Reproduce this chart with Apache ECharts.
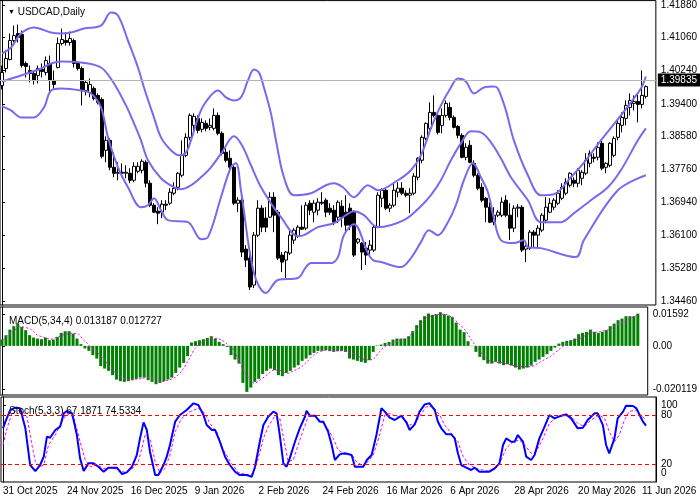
<!DOCTYPE html>
<html>
<head>
    <meta charset="utf-8" />
    <title>USDCAD Daily</title>
    <script type="text/javascript" src="https://cdn.jsdelivr.net/npm/echarts@6.0.0/dist/echarts.min.js"></script>
    <style>
        html, body { margin: 0; padding: 0; background: #fff; }
    </style>
</head>
<body>
<div id="main" style="width: 700px;height:500px;"></div>
<script type="text/javascript">
    // 162 daily bars (31 Oct 2025 .. 12 Jun 2026) + 2 empty slots of chart shift
    var slotCount = 164;
    var tickLabels = ['31 Oct 2025','24 Nov 2025','16 Dec 2025','9 Jan 2026','2 Feb 2026','24 Feb 2026',
        '16 Mar 2026','6 Apr 2026','28 Apr 2026','20 May 2026','11 Jun 2026'];
    var tickEvery = 16;

    // [open, close, low, high]
    var candles = [
        [1.39865,1.40190,1.39765,1.40365],[1.40290,1.40540,1.40190,1.40740],[1.40515,1.40990,1.40490,1.41165],[1.40990,1.41115,1.40940,1.41365],
        [1.41165,1.41065,1.40940,1.41390],[1.41140,1.40365,1.40315,1.41240],[1.40415,1.40340,1.40065,1.40465],[1.40240,1.40165,1.39940,1.40365],
        [1.40165,1.39990,1.39890,1.40215],[1.40115,1.40290,1.39915,1.40365],[1.40265,1.40215,1.40065,1.40415],[1.40190,1.40490,1.40115,1.40590],
        [1.40415,1.39990,1.39690,1.40615],[1.39990,1.39890,1.39790,1.40240],[1.40315,1.40915,1.40290,1.41065],[1.40915,1.41015,1.40865,1.41290],
        [1.40990,1.40940,1.40865,1.41190],[1.40940,1.41040,1.40865,1.41215],[1.40990,1.40415,1.40315,1.41040],[1.40415,1.40290,1.40240,1.40465],
        [1.40290,1.39740,1.39365,1.40340],[1.39740,1.39940,1.39615,1.39990],[1.39690,1.39890,1.39565,1.40040],[1.39790,1.39540,1.39490,1.39840],
        [1.39615,1.39440,1.39390,1.39665],[1.39515,1.38090,1.38040,1.39565],[1.38240,1.38490,1.37940,1.38590],[1.38490,1.37815,1.37740,1.38540],
        [1.37815,1.37665,1.37565,1.38190],[1.37665,1.37690,1.37490,1.37940],[1.37690,1.37665,1.37565,1.37915],[1.37665,1.37690,1.37540,1.37865],
        [1.37665,1.37490,1.37415,1.37790],[1.37490,1.37840,1.37440,1.37940],[1.37715,1.37840,1.37665,1.37940],[1.37740,1.37965,1.37665,1.38015],
        [1.37940,1.37415,1.37315,1.37990],[1.37415,1.36865,1.36815,1.37490],[1.36865,1.36690,1.36665,1.36915],[1.36715,1.36665,1.36390,1.36815],
        [1.36690,1.36890,1.36540,1.36990],[1.36890,1.36865,1.36740,1.36990],[1.36915,1.37190,1.36865,1.37290],[1.37165,1.37290,1.37115,1.37440],
        [1.37315,1.37665,1.37240,1.37690],[1.37615,1.38115,1.37565,1.38490],[1.38115,1.38565,1.38065,1.38665],[1.38565,1.39115,1.38490,1.39165],
        [1.38865,1.39090,1.38690,1.39165],[1.39040,1.38740,1.38665,1.39115],[1.38765,1.38940,1.38690,1.39040],[1.38915,1.38790,1.38715,1.38990],
        [1.38815,1.38865,1.38740,1.39040],[1.38790,1.39115,1.38740,1.39290],[1.39115,1.38665,1.38615,1.39190],[1.38665,1.38165,1.38115,1.38715],
        [1.38190,1.37990,1.37940,1.38290],[1.38040,1.37815,1.37740,1.38240],[1.37815,1.36915,1.36865,1.37865],[1.36915,1.36990,1.36690,1.37065],
        [1.36990,1.35690,1.35565,1.37040],[1.35765,1.35490,1.35315,1.35865],[1.35540,1.34815,1.34740,1.35615],[1.34865,1.36115,1.34790,1.36190],
        [1.36115,1.36790,1.36065,1.36990],[1.36790,1.36315,1.36190,1.36865],[1.36540,1.36315,1.36190,1.36815],[1.36565,1.37065,1.36540,1.37190],
        [1.37065,1.36615,1.36190,1.37190],[1.36690,1.35540,1.35490,1.36740],[1.35615,1.35440,1.35190,1.35690],[1.35490,1.35690,1.35040,1.35715],
        [1.35665,1.36115,1.35615,1.36240],[1.35990,1.36240,1.35890,1.36290],[1.36090,1.36315,1.36040,1.36365],[1.36315,1.36265,1.36240,1.36865],
        [1.36290,1.36865,1.36240,1.36940],[1.36915,1.36740,1.36615,1.36990],[1.36690,1.36915,1.36440,1.36990],[1.36740,1.36940,1.36615,1.37040],
        [1.36940,1.36915,1.36865,1.37190],[1.36990,1.36690,1.36565,1.37040],[1.36790,1.36690,1.36615,1.36915],[1.36740,1.36440,1.36365,1.36865],
        [1.36565,1.36940,1.36415,1.36990],[1.36840,1.36565,1.36315,1.36990],[1.36690,1.36365,1.36190,1.37115],[1.36790,1.36365,1.36240,1.36915],
        [1.36690,1.35615,1.35565,1.36740],[1.35940,1.36015,1.35890,1.36040],[1.35915,1.35690,1.35240,1.35940],[1.35790,1.35615,1.35365,1.35940],
        [1.35740,1.35865,1.35615,1.35990],[1.35740,1.36315,1.35690,1.36365],[1.36315,1.37115,1.36290,1.37190],[1.37040,1.37240,1.36815,1.37290],
        [1.37240,1.36790,1.36740,1.37290],[1.36790,1.36865,1.36690,1.36915],[1.36865,1.37240,1.36815,1.37415],[1.37190,1.37290,1.37065,1.37440],
        [1.37290,1.37165,1.37115,1.37440],[1.37165,1.37115,1.37065,1.37240],[1.37115,1.37165,1.36665,1.37290],[1.37165,1.37590,1.37115,1.37665],
        [1.37565,1.38040,1.37490,1.38065],[1.37990,1.38565,1.37915,1.38615],[1.38540,1.38915,1.38490,1.38940],[1.38790,1.39190,1.38740,1.39440],
        [1.39190,1.39115,1.39065,1.39615],[1.39115,1.38690,1.38640,1.39165],[1.38865,1.39115,1.38665,1.39290],[1.39115,1.39415,1.39065,1.39490],
        [1.39315,1.39065,1.38990,1.39440],[1.39065,1.38815,1.38790,1.39115],[1.38840,1.38615,1.38540,1.38865],[1.38615,1.38065,1.38040,1.38665],
        [1.38065,1.38315,1.37990,1.38415],[1.38365,1.37940,1.37915,1.38490],[1.37915,1.37615,1.37565,1.37990],[1.37615,1.37290,1.37240,1.37665],
        [1.37315,1.36990,1.36940,1.37415],[1.37040,1.36815,1.36440,1.37065],[1.36815,1.36440,1.36415,1.36940],[1.36440,1.36615,1.36365,1.36815],
        [1.36615,1.36690,1.36565,1.36740],[1.36615,1.36940,1.36565,1.37065],[1.36990,1.36615,1.36565,1.37115],[1.36615,1.36290,1.35990,1.36915],
        [1.36290,1.36790,1.36190,1.36865],[1.36790,1.36815,1.36565,1.36890],[1.36815,1.35740,1.35690,1.36865],[1.35765,1.35840,1.35440,1.35865],
        [1.35790,1.36190,1.35740,1.36240],[1.36190,1.36115,1.35815,1.36240],[1.36115,1.36290,1.35815,1.36365],[1.36240,1.36615,1.36190,1.36665],
        [1.36490,1.36815,1.36415,1.37065],[1.36690,1.36915,1.36665,1.37040],[1.36815,1.36990,1.36740,1.37040],[1.36915,1.37165,1.36865,1.37240],
        [1.37040,1.37315,1.36990,1.37415],[1.37165,1.37440,1.37115,1.37540],[1.37365,1.37665,1.37315,1.37690],[1.37490,1.37415,1.37315,1.37565],
        [1.37415,1.37740,1.37315,1.37790],[1.37540,1.37690,1.37365,1.37740],[1.37665,1.37990,1.37615,1.38165],[1.37915,1.38165,1.37815,1.38240],
        [1.38065,1.38040,1.37940,1.38165],[1.38065,1.38315,1.37990,1.38440],[1.38415,1.37790,1.37740,1.38490],[1.37815,1.37915,1.37665,1.37940],
        [1.37865,1.38415,1.37815,1.38440],[1.38115,1.38540,1.38065,1.38590],[1.38565,1.38915,1.38490,1.38990],[1.38865,1.39065,1.38690,1.39190],
        [1.39040,1.39365,1.38865,1.39490],[1.39315,1.39490,1.39115,1.39665],[1.39415,1.39465,1.39240,1.39615],[1.39465,1.39390,1.38940,1.39665],
        [1.39390,1.39615,1.39290,1.40240],[1.39590,1.39835,1.39540,1.39865]
    ];
    var lastPrice = 1.39835;

    // Bollinger bands as [bar, price]
    var bbUpper = [[0,1.40665],[2.25,1.40815],[4.75,1.41165],[8,1.41315],[12.25,1.4119],[14.75,1.41165],[17.25,1.4119],[20.5,1.4129],
        [24.75,1.41365],[27.25,1.4169],[29,1.41615],[31.5,1.4099],[34,1.40315],[35.5,1.39815],[38,1.39065],[39.75,1.38565],[42.25,1.3824],
        [44.25,1.38115],[46,1.3819],[47.25,1.3849],[49.75,1.3924],[52.25,1.39615],[54,1.3974],[56,1.39565],[58,1.3949],[59.75,1.39565],
        [61.5,1.3999],[63,1.40265],[64.25,1.4019],[65.5,1.39815],[67.25,1.39165],[68.5,1.3849],[70.5,1.37565],[73,1.37115],[77.25,1.37165],
        [81,1.37365],[83,1.37415],[85.25,1.37315],[88,1.37065],[91.5,1.37365],[94,1.3724],[99,1.3749],[102.25,1.3774],[104.75,1.38115],
        [107.25,1.3879],[109.75,1.39365],[112.25,1.39815],[114,1.4004],[116,1.39965],[118,1.39665],[120.5,1.39815],[123,1.3984],[124,1.3979],
        [126,1.3924],[128,1.3849],[131.5,1.37615],[134.75,1.37115],[138,1.3714],[142.25,1.37565],[146,1.3799],[149.75,1.3849],[154.75,1.39115],
        [159.75,1.3979],[161,1.4009]];
    var bbMiddle = [[0,1.39965],[4.75,1.40115],[9.75,1.4029],[12.25,1.40415],[14.75,1.40465],[19.75,1.4044],[24.75,1.40315],[28,1.39915],
        [31,1.39365],[33,1.38915],[34.75,1.3849],[36.5,1.3799],[39.75,1.3754],[43,1.37315],[44.75,1.37265],[47.25,1.37365],[49.75,1.37565],
        [52.25,1.37815],[55,1.3819],[58,1.3859],[60,1.38365],[62.25,1.37865],[64.5,1.37365],[67.25,1.36915],[69.75,1.36565],[74,1.3609],
        [75.5,1.36115],[79,1.36315],[83,1.36415],[86,1.36615],[88,1.36715],[90.5,1.36615],[94,1.36315],[100.5,1.3649],[104.75,1.3684],
        [107.25,1.37115],[109.75,1.3749],[112.25,1.3799],[114.75,1.38415],[117.25,1.38715],[119.75,1.3869],[122.25,1.3844],[124.75,1.3804],
        [127.25,1.37565],[131.5,1.3699],[134.75,1.3644],[139.75,1.3644],[143,1.36665],[147.25,1.3699],[151.5,1.37315],[154.75,1.3774],
        [159,1.3849],[161,1.3879]];
    var bbLower = [[0,1.3934],[2.25,1.3924],[4.75,1.39065],[8,1.39065],[10.5,1.39315],[12.25,1.3974],[14.75,1.3979],[19.75,1.3974],
        [22.25,1.39665],[24.75,1.39315],[26.5,1.38565],[29,1.37815],[31.5,1.37315],[34.75,1.36815],[36.5,1.36865],[38,1.3704],[39.75,1.3674],
        [41.5,1.3649],[46.5,1.3644],[49.75,1.36015],[51.5,1.36065],[54.75,1.37065],[57.25,1.37815],[58.5,1.37915],[59.75,1.3724],[63,1.35165],
        [66,1.34665],[69,1.3499],[74,1.3504],[76,1.35315],[77.25,1.35415],[82.25,1.35415],[84,1.35565],[85.5,1.36115],[88,1.3639],
        [91.5,1.35665],[92.75,1.3549],[94.75,1.3544],[99.75,1.35315],[102.25,1.3554],[104.75,1.3594],[106.75,1.3624],[109,1.36115],
        [111.5,1.3644],[113.5,1.36865],[115.5,1.3749],[117.75,1.37915],[119.75,1.37565],[121.5,1.3719],[123,1.3654],[124.75,1.3599],
        [128,1.35915],[130.5,1.3599],[131.5,1.35815],[134.75,1.3579],[143.5,1.35565],[145.5,1.3599],[154,1.3724],[161,1.37615]];

    // MACD(5,34,4): histogram per bar, signal as [bar, value]
    var macdHist = [
        0.00262,0.00438,0.00668,0.00807,0.00913,0.00778,0.00643,0.00438,0.00340,0.00299,
        0.00274,0.00340,0.00233,0.00258,0.00369,0.00532,0.00602,0.00602,0.00504,0.00299,
        0.00070,-0.00106,-0.00205,-0.00381,-0.00520,-0.00831,-0.00930,-0.01024,-0.01200,-0.01380,
        -0.01446,-0.01474,-0.01446,-0.01405,-0.01351,-0.01298,-0.01298,-0.01405,-0.01474,-0.01569,
        -0.01515,-0.01446,-0.01380,-0.01298,-0.01106,-0.00889,-0.00696,-0.00422,0.00139,0.00192,
        0.00233,0.00274,0.00328,0.00397,0.00299,0.00164,0.00070,-0.00041,-0.00381,-0.00561,
        -0.00725,-0.01515,-0.01884,-0.01708,-0.01474,-0.01351,-0.01147,-0.01024,-0.00930,-0.00995,
        -0.01200,-0.01241,-0.01106,-0.01024,-0.00889,-0.00790,-0.00614,-0.00520,-0.00381,-0.00287,
        -0.00205,-0.00205,-0.00176,-0.00217,-0.00246,-0.00217,-0.00205,-0.00246,-0.00520,-0.00561,
        -0.00614,-0.00655,-0.00696,-0.00586,-0.00246,0.00020,0.00053,0.00123,0.00164,0.00258,
        0.00299,0.00299,0.00299,0.00397,0.00602,0.00848,0.01053,0.01216,0.01323,0.01270,
        0.01298,0.01380,0.01298,0.01241,0.01188,0.00954,0.00668,0.00561,0.00192,-0.00012,
        -0.00246,-0.00450,-0.00586,-0.00725,-0.00725,-0.00655,-0.00725,-0.00790,-0.00749,-0.00807,
        -0.00889,-0.00971,-0.00930,-0.00889,-0.00807,-0.00655,-0.00561,-0.00450,-0.00340,-0.00205,
        -0.00070,0.00094,0.00164,0.00205,0.00233,0.00299,0.00479,0.00532,0.00573,0.00668,
        0.00573,0.00532,0.00573,0.00643,0.00807,0.00913,0.01053,0.01118,0.01216,0.01216,
        0.01216,0.013187
    ];
    var macdSignal = [[0.2,0.00242],[2.25,0.00515],[4.75,0.00788],[7.25,0.00678],[8.9,0.00447],[10.6,0.00351],[12.25,0.00269],
        [13.9,0.00351],[15.6,0.00447],[17.7,0.00515],[19.3,0.00487],[20.6,0.00242],[21.6,0.00105],[22.7,-0.00099],[23.9,-0.00236],
        [25.6,-0.00509],[27.25,-0.0085],[28.9,-0.01123],[30.6,-0.01328],[32.25,-0.01396],[33.9,-0.01369],[35.6,-0.01328],[37.25,-0.01287],
        [38.9,-0.01369],[40.6,-0.01465],[42.25,-0.01396],[43.9,-0.01287],[45.6,-0.01014],[47.25,-0.00577],[48.9,-0.00099],[50.6,0.00133],
        [52.25,0.00269],[53.9,0.0031],[55.6,0.00242],[57.25,0.00037],[58.9,-0.00236],[60.6,-0.00823],[62.25,-0.0126],[63.9,-0.01533],
        [65.6,-0.01369],[67.25,-0.01164],[68.9,-0.00987],[70.6,-0.01014],[72.25,-0.01123],[73.9,-0.01014],[75.6,-0.00878],[77.25,-0.00645],
        [78.9,-0.00372],[80.6,-0.00236],[82.25,-0.00168],[83.9,-0.00195],[86.4,-0.00209],[89.75,-0.00372],[92.25,-0.00577],[93.9,-0.0055],
        [95.6,-0.00236],[97.25,-0.00004],[99.75,0.00173],[102.25,0.0031],[103.9,0.00515],[105.6,0.00788],[107.25,0.01129],[109.75,0.01266],
        [112.25,0.01293],[113.9,0.0117],[115.6,0.00924],[117.25,0.00651],[118.9,0.00242],[120.1,-0.00031],[122.25,-0.00441],[123.9,-0.00645],
        [126.4,-0.00686],[128.9,-0.00782],[131.4,-0.0085],[133.9,-0.0085],[136.4,-0.00645],[139,-0.00413],[141.4,-0.00099],[143.9,0.00173],
        [146.4,0.0031],[148.9,0.00515],[151.4,0.00583],[153.9,0.00678],[155.6,0.00856],[158.1,0.01033],[161,0.012727]];

    // Stochastic(5,3,3) as [bar, value]
    var stochMain = [[0,64],[0.6,72.1],[1.8,86.4],[3.1,89.3],[4.3,88.5],[5.6,64],[6.8,19.1],[8.1,11.7],[9.3,19.1],[10.2,29.3],[11,53.8],
        [11.8,52.5],[13.1,62],[14.3,66],[15.2,82.3],[16,85.2],[17.3,82.3],[18.5,55.8],[19.3,27.2],[20.2,11.7],[21.4,21.1],[22.7,21.1],
        [23.9,17],[25.2,10.9],[26.4,15.8],[28.5,15.8],[29.8,8.1],[31,10.1],[32.3,17],[33.5,31.3],[34.3,51.7],[35.2,71.3],[36,62],[36.8,35.4],
        [38.1,6.8],[38.9,6.8],[40.2,19.1],[41,29.3],[41.8,43.6],[43.1,72.1],[44.3,80.3],[46,86.4],[47.7,94.6],[48.9,92.5],[50.2,80.3],
        [51,68],[52.3,62],[53.1,62],[54.3,47.6],[55.6,29.3],[56.8,19.1],[58.1,10.9],[59.3,6.8],[61,6.8],[62.3,4.8],[63.1,17],[64.3,47.6],
        [65.2,68],[66.4,78.2],[67.7,84.4],[68.5,82.3],[69.3,55.8],[70.2,21.1],[71,17],[71.8,27.2],[73.1,47.6],[74.3,64],[75.6,78.2],
        [76,85.6],[76.8,79.5],[78.1,79.5],[79.3,72.1],[80.2,72.1],[81.4,59.9],[82.3,43.6],[83.1,25.2],[84.3,32.1],[85.6,33.4],[87.3,31.3],
        [88.1,17],[89.3,17],[90.2,17],[91.1,25.2],[92.3,31.3],[93.5,55.8],[94.75,88.5],[95.6,84.4],[96.8,77],[98.1,74.2],[99.75,79.5],
        [101,71.3],[101.8,62],[103.1,68.9],[104.3,84.4],[105.6,93.3],[106.8,94.6],[108.1,86.4],[108.9,72.1],[109.75,64],[111,56.6],
        [112.25,56.6],[113.1,51.7],[113.9,33.4],[114.75,19.1],[116,15.8],[117.25,13],[118.1,15.8],[119.3,10.9],[120.6,10.9],[121.8,10.9],
        [123.1,15],[124.3,21.1],[125.2,43.6],[126,51.7],[127.25,47.6],[128.1,47.6],[128.9,55.8],[130.2,47.6],[131,29.3],[132.25,25.2],
        [133.1,31.3],[134.3,51.7],[135.6,66],[136.8,80.3],[138.1,76.2],[139.75,79.5],[141,81.1],[142.25,76.2],[143.9,64],[145.2,64.8],
        [146.4,74.2],[148.1,82.3],[148.9,82.3],[150.2,68],[151,43.6],[151.8,33.4],[153.1,51.7],[153.9,76.2],[155.25,84.4],[156,91.7],
        [157.75,91.3],[158.6,88.5],[159.4,80.3],[160.25,72.1],[161,67.19]];
    var stochSignal = [[0,43.6],[1,64],[2.25,82.3],[3.5,86.4],[4.75,85.2],[6,78.2],[7.25,43.6],[8.1,23.2],[9.3,17],[10.2,19.1],[11.4,43.6],
        [13.1,55.8],[14.75,72.1],[16,82.3],[17.7,78.2],[19.3,47.6],[20.6,25.2],[21.8,17],[23.5,19.1],[25.2,15],[27.25,15.8],[28.9,13],
        [30.6,10.1],[32.7,15.8],[33.9,23.2],[35.6,55.8],[36.8,51.7],[38.1,23.2],[39.3,8.9],[40.6,15],[41.8,31.3],[43.1,59.9],[44.75,76.2],
        [46.8,84.4],[48.9,88.5],[50.6,82.3],[51.8,70.1],[53.5,59.9],[55.2,37.4],[57.25,21.1],[58.9,10.1],[61.4,6.8],[62.7,8.9],[63.9,27.2],
        [65.2,51.7],[66.4,66],[68.1,79.5],[69.3,76.2],[70.6,43.6],[71.4,23.2],[72.7,25.2],[73.9,43.6],[75.2,62],[76.4,78.2],[77.7,79.5],
        [79.3,74.2],[81,66],[82.7,51.7],[83.9,37.4],[85.6,32.1],[87.25,32.1],[88.5,23.2],[90.2,17.9],[91.4,23.2],[92.7,31.3],[94.3,55.8],
        [95.6,80.3],[96.8,82.3],[98.5,78.2],[100.2,76.2],[101.8,68],[103.1,70.1],[104.3,78.2],[106,90.5],[107.7,90.5],[109.3,80.3],
        [110.6,68],[112.25,57.9],[113.9,47.6],[115.2,29.3],[116.8,19.1],[118.9,14.2],[121.4,11.7],[123.5,15.8],[124.75,25.2],[126,39.5],
        [127.7,47.6],[129.3,49.7],[130.6,43.6],[132.25,33.4],[133.5,35.4],[135.2,51.7],[136.8,70.1],[138.5,77],[140.6,79.5],[142.25,78.2],
        [143.9,70.1],[145.6,66],[147.25,74.2],[149.3,80.3],[150.6,76.2],[151.8,59.9],[153.1,47.6],[154.3,55.8],[155.6,74.2],[156.75,84.4],
        [158.4,86.4],[159.6,80.3],[161,74.53]];
    var stochLevels = [80, 20];

    // right scale labels (MT4 places the panel end labels inside the panel)
    var priceTicks = [1.41880,1.41060,1.40240,1.39400,1.38580,1.37760,1.36940,1.36100,1.35280,1.34460];
    var macdTickPos = [0.01294, 0, -0.01765];
    var macdTickLabels = ['0.01592', '0.00', '-0.020119'];
    var stochTickPos = [92.5, 80, 20];
    var stochTickLabels = ['100', '80', '20'];
    var stochZeroPos = [8.5];
    var stochZeroLabel = ['0'];

    var font = 'Liberation Sans';
    var bandColor = '#7b68ee';

    var slots = [];
    for (var i = 0; i < slotCount; i++) slots.push(String(i));

    function pick(pos, labels) {
        return function (v) {
            for (var j = 0; j < pos.length; j++) {
                if (Math.abs(pos[j] - v) < 1e-7) return labels[j];
            }
            return '';
        };
    }

    function catAxis(g, withLabels) {
        return {
            type: 'category', gridIndex: g, data: slots, boundaryGap: true,
            axisLine: {show: false}, axisTick: {show: false}, splitLine: {show: false},
            axisLabel: withLabels ? {
                show: true, color: '#000', fontSize: 10, fontFamily: font, align: 'left', margin: 4,
                interval: function (idx) { return idx % tickEvery === 0 && idx / tickEvery < tickLabels.length; },
                formatter: function (v) { return tickLabels[Number(v) / tickEvery]; }
            } : {show: false}
        };
    }
    function valAxis(g) {
        return {type: 'value', gridIndex: g, min: -0.5, max: slotCount - 0.5, show: false};
    }
    function rightAxis(g, min, max, ticks, fmt) {
        return {
            type: 'value', gridIndex: g, position: 'right', min: min, max: max,
            splitLine: {show: false},
            axisLine: {show: true, lineStyle: {color: '#000', width: 1}},
            axisTick: {show: true, customValues: ticks, length: 3, lineStyle: {color: '#000'}},
            axisLabel: {customValues: ticks, formatter: fmt, color: '#000', fontSize: 10, fontFamily: font,
                margin: 5, hideOverlap: false, showMinLabel: true, showMaxLabel: true}
        };
    }
    function bandSeries(data) {
        return {
            type: 'line', xAxisIndex: 1, yAxisIndex: 0, data: data, showSymbol: false, smooth: 0.35,
            lineStyle: {color: bandColor, width: 2}, z: 4, silent: true
        };
    }

    var myChart = echarts.init(document.getElementById('main'));
    var gridBase = {left: 0, right: 44, show: true, borderColor: '#000', borderWidth: 1, backgroundColor: '#fff'};
    var stochZeroAxis = rightAxis(2, -1.7, 102.34, stochZeroPos, pick(stochZeroPos, stochZeroLabel));
    stochZeroAxis.axisTick.show = false;
    var option = {
        animation: false,
        backgroundColor: '#fff',
        textStyle: {fontFamily: font},
        title: [
            {text: '{t|▼} USDCAD,Daily', left: 3, top: 2,
                textStyle: {fontSize: 10, fontWeight: 'normal', color: '#000', fontFamily: font,
                    rich: {t: {fontSize: 7, color: '#000'}}}},
            {text: 'MACD(5,34,4) 0.013187 0.012727', left: 4, top: 311,
                textStyle: {fontSize: 10, fontWeight: 'normal', color: '#000', fontFamily: font}},
            {text: 'Stoch(5,3,3) 67.1871 74.5334', left: 4, top: 401,
                textStyle: {fontSize: 10, fontWeight: 'normal', color: '#000', fontFamily: font}}
        ],
        grid: [
            Object.assign({top: 0, height: 305}, gridBase),
            Object.assign({top: 307, height: 88}, gridBase),
            Object.assign({top: 397, height: 85}, gridBase)
        ],
        xAxis: [catAxis(0, false), valAxis(0), catAxis(1, false), valAxis(1), catAxis(2, true), valAxis(2)],
        yAxis: [
            rightAxis(0, 1.34365, 1.41990, priceTicks, function (v) { return v.toFixed(5); }),
            rightAxis(1, -0.020119, 0.01592, macdTickPos, pick(macdTickPos, macdTickLabels)),
            rightAxis(2, -1.7, 102.34, stochTickPos, pick(stochTickPos, stochTickLabels)),
            stochZeroAxis
        ],
        series: [
            {
                type: 'candlestick', xAxisIndex: 0, yAxisIndex: 0, data: candles, barWidth: 3, z: 3,
                itemStyle: {color: '#fff', color0: '#000', borderColor: '#000', borderColor0: '#000', borderWidth: 1},
                markLine: {
                    silent: true, symbol: 'none', animation: false,
                    lineStyle: {color: '#b4b4b4', type: 'solid', width: 1},
                    label: {show: true, position: 'end', distance: 2, formatter: lastPrice.toFixed(5),
                        color: '#fff', backgroundColor: '#000', padding: [2, 3, 1, 3], fontSize: 10, fontFamily: font},
                    data: [{yAxis: lastPrice}]
                }
            },
            bandSeries(bbUpper),
            bandSeries(bbMiddle),
            bandSeries(bbLower),
            {
                type: 'bar', xAxisIndex: 2, yAxisIndex: 1, data: macdHist, barWidth: 3,
                itemStyle: {color: '#008000'}, silent: true
            },
            {
                type: 'line', xAxisIndex: 3, yAxisIndex: 1, data: macdSignal, showSymbol: false, smooth: 0.3,
                lineStyle: {color: '#ff00ff', width: 1, type: [2, 2]}, z: 4, silent: true
            },
            {
                type: 'line', xAxisIndex: 5, yAxisIndex: 2, data: stochSignal, showSymbol: false,
                lineStyle: {color: '#ff00ff', width: 1, type: [3, 2]}, z: 3, silent: true
            },
            {
                type: 'line', xAxisIndex: 5, yAxisIndex: 2, data: stochMain, showSymbol: false,
                lineStyle: {color: '#0000ff', width: 2}, z: 4, silent: true,
                markLine: {
                    silent: true, symbol: 'none', animation: false, label: {show: false},
                    lineStyle: {color: '#ff0000', type: [4, 3], width: 1},
                    data: stochLevels.map(function (v) { return {yAxis: v}; })
                }
            }
        ]
    };
    myChart.setOption(option);
</script>
</body>
</html>
